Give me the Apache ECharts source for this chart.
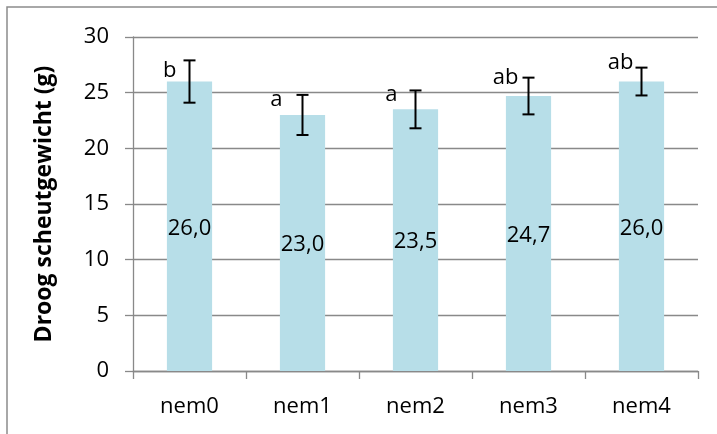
<!DOCTYPE html>
<html>
<head>
<meta charset="utf-8">
<script src="https://cdn.jsdelivr.net/npm/echarts@6/dist/echarts.min.js"></script>
<style>
  html, body { margin: 0; padding: 0; background: #fff; }
  #chart { width: 717px; height: 434px; }
</style>
</head>
<body>
<div id="chart"></div>
<script>
// Dry shoot weight per nematode treatment
const categories = ['nem0', 'nem1', 'nem2', 'nem3', 'nem4'];
const meanWeight = [26.0, 23.0, 23.5, 24.7, 26.0];
const errorHalf = [1.9, 1.8, 1.7, 1.65, 1.25];
const groupLetters = ['b', 'a', 'a', 'ab', 'ab'];
const yTicks = [0, 5, 10, 15, 20, 25, 30];

// Letter placement relative to the top cap of each error bar: [dx to right edge, dy to text middle]
const letterNudge = [[-13, 10], [-20, 5], [-18, 4], [-10, 0], [-8, -5]];

const FONT = '"Open Sans", sans-serif';
const GRID_GRAY = '#898989';

const chart = echarts.init(document.getElementById('chart'), null, { renderer: 'canvas' });

const errorData = categories.map((c, i) => [i, meanWeight[i] - errorHalf[i], meanWeight[i] + errorHalf[i], i]);

chart.setOption({
  animation: false,
  backgroundColor: '#ffffff',
  grid: { left: 133, right: 19, top: 37, bottom: 63, containLabel: false },
  graphic: [{
    type: 'rect',
    shape: { x: 7, y: 7, width: 730, height: 450 },
    style: { fill: 'none', stroke: '#8c8c8c', lineWidth: 1.5 },
    silent: true,
    z: -1
  }],
  xAxis: {
    type: 'category',
    data: categories,
    boundaryGap: true,
    axisLine: { show: true, lineStyle: { color: GRID_GRAY, width: 1.3 } },
    axisTick: { show: true, length: 8, alignWithLabel: false, lineStyle: { color: GRID_GRAY, width: 1.3 } },
    axisLabel: { color: '#000', fontFamily: FONT, fontSize: 22, margin: 25 },
    splitLine: { show: false }
  },
  yAxis: {
    type: 'value',
    min: yTicks[0],
    max: yTicks[yTicks.length - 1],
    interval: yTicks[1] - yTicks[0],
    name: 'Droog scheutgewicht (g)',
    nameLocation: 'middle',
    nameRotate: 90,
    nameGap: 77,
    nameTextStyle: { color: '#000', fontFamily: FONT, fontSize: 23, fontWeight: 'bold' },
    axisLine: { show: true, lineStyle: { color: GRID_GRAY, width: 1.3 } },
    axisTick: { show: true, inside: false, length: 8, lineStyle: { color: GRID_GRAY, width: 1.3 } },
    axisLabel: { color: '#000', fontFamily: FONT, fontSize: 22, margin: 24 },
    splitLine: { show: true, lineStyle: { color: GRID_GRAY, width: 1.3 } }
  },
  series: [
    {
      type: 'bar',
      data: meanWeight,
      barWidth: '40%',
      itemStyle: { color: '#B7DEE8' },
      label: {
        show: true,
        position: 'inside',
        color: '#000',
        fontFamily: FONT,
        fontSize: 22,
        offset: [0, 2],
        formatter: p => p.value.toFixed(1).replace('.', ',')
      },
      z: 2
    },
    {
      type: 'custom',
      data: errorData,
      z: 5,
      renderItem: function (params, api) {
        const idx = api.value(0);
        const lo = api.coord([idx, api.value(1)]);
        const hi = api.coord([idx, api.value(2)]);
        const cap = 6;
        const style = { stroke: '#000', lineWidth: 2 };
        const k = api.value(3);
        const nudge = letterNudge[k];
        return {
          type: 'group',
          children: [
            { type: 'line', shape: { x1: hi[0], y1: hi[1], x2: lo[0], y2: lo[1] }, style },
            { type: 'line', shape: { x1: hi[0] - cap, y1: hi[1], x2: hi[0] + cap, y2: hi[1] }, style },
            { type: 'line', shape: { x1: lo[0] - cap, y1: lo[1], x2: lo[0] + cap, y2: lo[1] }, style },
            {
              type: 'text',
              style: {
                text: groupLetters[k],
                x: hi[0] + nudge[0],
                y: hi[1] + nudge[1],
                align: 'right',
                verticalAlign: 'middle',
                fill: '#000',
                font: '22px ' + FONT
              }
            }
          ]
        };
      }
    }
  ]
});
</script>
</body>
</html>
